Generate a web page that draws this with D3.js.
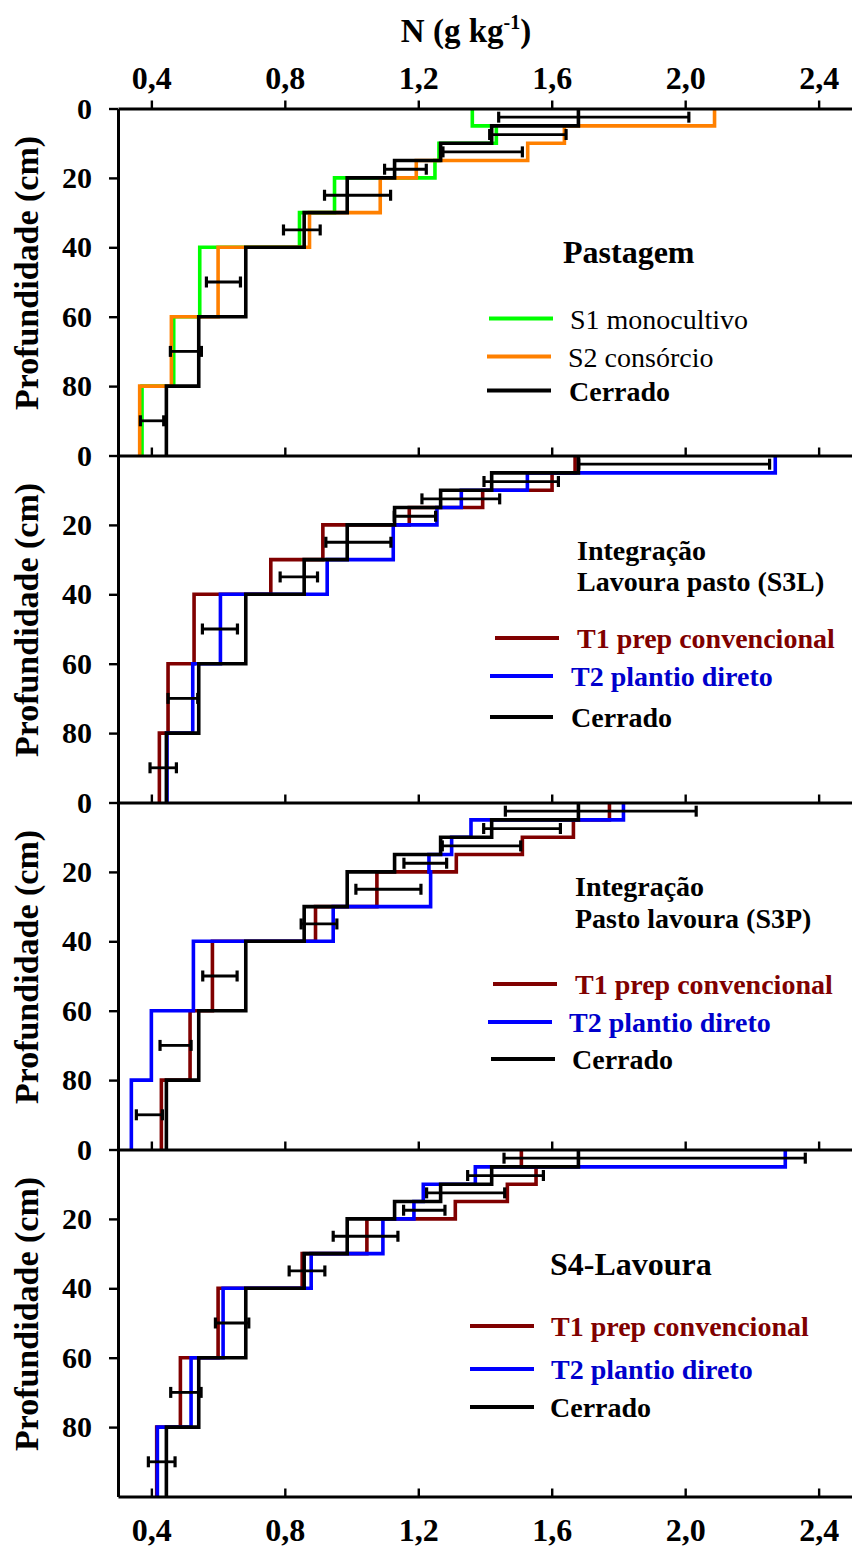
<!DOCTYPE html>
<html>
<head>
<meta charset="utf-8">
<script src="https://cdn.jsdelivr.net/npm/d3@7"></script>
<style>
  html, body { margin: 0; padding: 0; background: #fff; }
  svg { display: block; }
  text { font-family: "Liberation Serif", "Times New Roman", serif; }
</style>
</head>
<body>
<script>
// ---------------- DATA ----------------
const xTicks = [0.4, 0.8, 1.2, 1.6, 2.0, 2.4];
const yTicks = [0, 20, 40, 60, 80];
const depthTop    = [0, 5, 10, 15, 20, 30, 40, 60, 80];
const depthBottom = [5, 10, 15, 20, 30, 40, 60, 80, 100];
const errDepth    = [2.5, 7.5, 12.5, 17.5, 25, 35, 50, 70, 90];

// Cerrado (reference, same in every panel)
const cerrado = [1.68, 1.42, 1.267, 1.129, 0.987, 0.858, 0.683, 0.542, 0.445];

// Panel 1 - Pastagem
const s1Monocultivo = [1.362, 1.434, 1.262, 1.250, 0.949, 0.844, 0.545, 0.467, 0.372];
const s2Consorcio   = [2.088, 1.638, 1.528, 1.194, 1.086, 0.874, 0.600, 0.460, 0.365];
const err1Lo = [1.441, 1.414, 1.274, 1.099, 0.919, 0.796, 0.565, 0.457, 0.367];
const err1Hi = [2.011, 1.643, 1.512, 1.224, 1.117, 0.906, 0.667, 0.550, 0.437];

// Panel 2 - Integração Lavoura pasto (S3L)
const s3lT1 = [1.670, 1.601, 1.393, 1.173, 0.914, 0.758, 0.528, 0.450, 0.424];
const s3lT2 = [2.270, 1.527, 1.329, 1.256, 1.125, 0.927, 0.607, 0.524, 0.447];
const err2Lo = [1.681, 1.397, 1.211, 1.128, 0.923, 0.786, 0.553, 0.450, 0.396];
const err2Hi = [2.253, 1.620, 1.444, 1.252, 1.118, 0.898, 0.658, 0.539, 0.475];

// Panel 3 - Integração Pasto lavoura (S3P)
const s3pT1 = [1.773, 1.665, 1.512, 1.314, 1.076, 0.892, 0.583, 0.516, 0.430];
const s3pT2 = [1.815, 1.358, 1.300, 1.232, 1.237, 0.945, 0.526, 0.400, 0.340];
const err3Lo = [1.461, 1.396, 1.272, 1.157, 1.013, 0.849, 0.554, 0.426, 0.355];
const err3Hi = [2.033, 1.626, 1.507, 1.285, 1.208, 0.956, 0.657, 0.519, 0.433];

// Panel 4 - S4-Lavoura
const s4T1 = [1.509, 1.553, 1.467, 1.311, 1.046, 0.852, 0.600, 0.487, 0.416];
const s4T2 = [2.300, 1.371, 1.215, 1.187, 1.094, 0.879, 0.615, 0.519, 0.418];
const err4Lo = [1.457, 1.348, 1.225, 1.156, 0.945, 0.813, 0.592, 0.458, 0.391];
const err4Hi = [2.360, 1.575, 1.459, 1.280, 1.139, 0.920, 0.692, 0.549, 0.471];

// ---------------- LAYOUT ----------------
const W = 852, H = 1551;
const left = 118, right = 852;
const panelTop0 = 108.5, panelH = 347;
const serif = '"Liberation Serif", "Times New Roman", serif';

const GREEN = "#00ff00", ORANGE = "#ff8000", DRED = "#800000", BLUE = "#0000ff", BLACK = "#000000";

const panels = [
  {
    titles: ["Pastagem"], titleSize: 32, titleX: 563, titleY: [154.5],
    series: [
      { name: "S1 monocultivo", values: s1Monocultivo, color: GREEN, textColor: BLACK, bold: false, lx: [489, 553], tx: 570, ly: 210 },
      { name: "S2 consórcio",   values: s2Consorcio,   color: ORANGE, textColor: BLACK, bold: false, lx: [487, 551], tx: 568, ly: 248 },
      { name: "Cerrado",        values: cerrado,       color: BLACK, textColor: BLACK, bold: true,  lx: [487, 551], tx: 569, ly: 282 }
    ],
    errLo: err1Lo, errHi: err1Hi
  },
  {
    titles: ["Integração", "Lavoura pasto (S3L)"], titleSize: 28, titleX: 577, titleY: [104, 135],
    series: [
      { name: "T1 prep convencional", values: s3lT1, color: DRED, textColor: DRED, bold: true, lx: [495, 559], tx: 577, ly: 182.5 },
      { name: "T2 plantio direto",    values: s3lT2, color: BLUE, textColor: "#0000cc", bold: true, lx: [490, 553], tx: 571, ly: 220.5 },
      { name: "Cerrado",              values: cerrado, color: BLACK, textColor: BLACK, bold: true, lx: [490, 553], tx: 571, ly: 261.5 }
    ],
    errLo: err2Lo, errHi: err2Hi
  },
  {
    titles: ["Integração", "Pasto lavoura (S3P)"], titleSize: 28, titleX: 575, titleY: [93, 125],
    series: [
      { name: "T1 prep convencional", values: s3pT1, color: DRED, textColor: DRED, bold: true, lx: [493, 557], tx: 575, ly: 181.5 },
      { name: "T2 plantio direto",    values: s3pT2, color: BLUE, textColor: "#0000cc", bold: true, lx: [488, 552], tx: 569, ly: 219.5 },
      { name: "Cerrado",              values: cerrado, color: BLACK, textColor: BLACK, bold: true, lx: [491, 555], tx: 572, ly: 256.5 }
    ],
    errLo: err3Lo, errHi: err3Hi
  },
  {
    titles: ["S4-Lavoura"], titleSize: 32, titleX: 550, titleY: [125.5],
    series: [
      { name: "T1 prep convencional", values: s4T1, color: DRED, textColor: DRED, bold: true, lx: [470, 534], tx: 551, ly: 176.5 },
      { name: "T2 plantio direto",    values: s4T2, color: BLUE, textColor: "#0000cc", bold: true, lx: [470, 534], tx: 551, ly: 219.5 },
      { name: "Cerrado",              values: cerrado, color: BLACK, textColor: BLACK, bold: true, lx: [470, 534], tx: 550, ly: 257.5 }
    ],
    errLo: err4Lo, errHi: err4Hi
  }
];

// ---------------- DRAW ----------------
const svg = d3.select("body").append("svg").attr("width", W).attr("height", H);
const x = d3.scaleLinear().domain([0.3, 2.5]).range([left, right]);
const fmt = d3.formatLocale({ decimal: ",", thousands: ".", grouping: [3], currency: ["", ""] }).format(".1f");

// Title
const title = svg.append("text")
  .attr("x", 466).attr("y", 42).attr("text-anchor", "middle")
  .attr("font-size", 33).attr("font-weight", "bold").attr("font-family", serif);
title.append("tspan").text("N (g kg");
title.append("tspan").attr("font-size", 20).attr("dy", -13).text("-1");
title.append("tspan").attr("dy", 13).text(")");

function styleAxis(g) {
  g.attr("font-family", serif);
  g.select(".domain").attr("stroke", "#000").attr("stroke-width", 3);
  g.selectAll(".tick line").attr("stroke", "#000").attr("stroke-width", 2.4);
  g.selectAll(".tick text").attr("font-family", serif).attr("font-weight", "bold").attr("fill", "#000");
}

panels.forEach((p, i) => {
  const top = panelTop0 + i * panelH;
  const y = d3.scaleLinear().domain([0, 100]).range([top, top + panelH]);
  const g = svg.append("g");

  // step lines
  const line = d3.line().x(d => x(d.v)).y(d => y(d.d));
  p.series.forEach(s => {
    const pts = [];
    s.values.forEach((v, k) => { pts.push({ v, d: depthTop[k] }); pts.push({ v, d: depthBottom[k] }); });
    g.append("path").attr("d", line(pts)).attr("fill", "none")
      .attr("stroke", s.color).attr("stroke-width", 3.6).attr("stroke-linejoin", "miter");
  });

  // error bars
  const eg = g.append("g").attr("stroke", "#000").attr("stroke-width", 2.8);
  errDepth.forEach((d, k) => {
    const yy = y(d), x0 = x(p.errLo[k]), x1 = x(p.errHi[k]);
    eg.append("line").attr("x1", x0).attr("x2", x1).attr("y1", yy).attr("y2", yy);
    eg.append("line").attr("x1", x0).attr("x2", x0).attr("y1", yy - 5.5).attr("y2", yy + 5.5).attr("stroke-width", 3.2);
    eg.append("line").attr("x1", x1).attr("x2", x1).attr("y1", yy - 5.5).attr("y2", yy + 5.5).attr("stroke-width", 3.2);
  });

  // top horizontal axis (ticks pointing up)
  const topAxis = d3.axisTop(x).tickValues(xTicks).tickSizeInner(8).tickSizeOuter(0)
    .tickPadding(12).tickFormat(i === 0 ? fmt : "");
  const ta = svg.append("g").attr("transform", `translate(0,${top})`).call(topAxis);
  ta.selectAll(".tick text").attr("font-size", 32);
  styleAxis(ta);

  // left axis
  const la = svg.append("g").attr("transform", `translate(${left},0)`)
    .call(d3.axisLeft(y).tickValues(yTicks).tickSizeInner(9).tickSizeOuter(0).tickPadding(17));
  la.selectAll(".tick text").attr("font-size", 30);
  styleAxis(la);

  // y-axis title
  svg.append("text")
    .attr("transform", `translate(38,${top + panelH / 2 - 9}) rotate(-90)`)
    .attr("text-anchor", "middle").attr("font-size", 34).attr("font-weight", "bold")
    .attr("font-family", serif).text("Profundidade (cm)");

  // panel title
  p.titles.forEach((t, k) => {
    svg.append("text").attr("x", p.titleX).attr("y", top + p.titleY[k])
      .attr("font-size", p.titleSize).attr("font-weight", "bold").attr("font-family", serif)
      .attr("fill", "#000").text(t);
  });

  // legend
  p.series.forEach(s => {
    svg.append("line").attr("x1", s.lx[0]).attr("x2", s.lx[1])
      .attr("y1", top + s.ly).attr("y2", top + s.ly)
      .attr("stroke", s.color).attr("stroke-width", 4);
    svg.append("text").attr("x", s.tx).attr("y", top + s.ly + 10)
      .attr("font-size", 28).attr("font-weight", s.bold ? "bold" : "normal")
      .attr("font-family", serif).attr("fill", s.textColor).text(s.name);
  });

  // bottom axis of the last panel (ticks pointing up, labels below)
  if (i === panels.length - 1) {
    const ba = svg.append("g").attr("transform", `translate(0,${top + panelH})`)
      .call(d3.axisBottom(x).tickValues(xTicks).tickSizeInner(-8).tickSizeOuter(0).tickPadding(22).tickFormat(fmt));
    ba.selectAll(".tick text").attr("font-size", 32);
    styleAxis(ba);
  }
});
</script>
</body>
</html>
